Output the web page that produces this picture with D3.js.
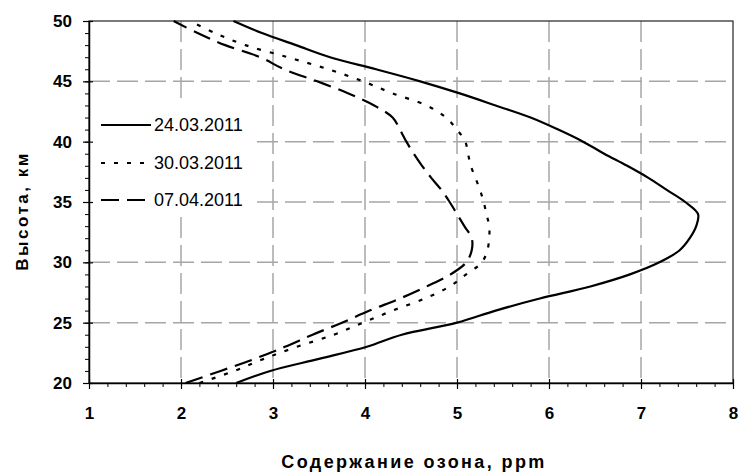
<!DOCTYPE html>
<html>
<head>
<meta charset="utf-8">
<script src="https://cdn.jsdelivr.net/npm/d3@7.9.0/dist/d3.min.js"></script>
<style>
  html, body { margin: 0; padding: 0; background: #fff; }
  svg { display: block; font-family: "Liberation Sans", Arial, sans-serif; }
</style>
</head>
<body>
<svg id="chart" width="740" height="472"></svg>
<script>
// altitude, km
const altitude = [20, 21, 22, 23, 24, 25, 26, 27, 28, 29, 30, 31, 32, 33, 34, 35,
                  36, 37, 38, 39, 40, 41, 42, 43, 44, 45, 46, 47, 48, 49, 50];

// ozone, ppm
const ozone0324 = [2.6, 2.97, 3.5, 4.02, 4.4, 5.0, 5.42, 5.9, 6.45, 6.88, 7.2, 7.42, 7.53, 7.6, 7.62, 7.48,
                   7.28, 7.08, 6.85, 6.6, 6.37, 6.1, 5.8, 5.42, 5.03, 4.6, 4.12, 3.62, 3.25, 2.88, 2.57];
const ozone0330 = [2.2, 2.58, 2.9, 3.26, 3.66, 3.98, 4.3, 4.65, 4.92, 5.1, 5.27, 5.33, 5.35, 5.35, 5.32, 5.29,
                   5.25, 5.2, 5.15, 5.12, 5.09, 5.0, 4.88, 4.67, 4.3, 3.98, 3.6, 3.16, 2.7, 2.37, 2.1];
const ozone0407 = [2.05, 2.43, 2.8, 3.13, 3.43, 3.75, 4.05, 4.38, 4.67, 4.93, 5.1, 5.16, 5.16, 5.08, 5.0, 4.92,
                   4.83, 4.72, 4.62, 4.53, 4.45, 4.38, 4.3, 4.1, 3.82, 3.48, 3.12, 2.86, 2.48, 2.18, 1.92];

const seriesNames = ['24.03.2011', '30.03.2011', '07.04.2011'];
const seriesValues = [ozone0324, ozone0330, ozone0407];
const seriesDash = [null, '4,9', '18,8'];

const xTicks = [1, 2, 3, 4, 5, 6, 7, 8];
const yTicks = [20, 25, 30, 35, 40, 45, 50];

const xTitle = 'Содержание озона, ppm';
const yTitle = 'Высота, км';

const margin = { top: 21, right: 7, bottom: 89, left: 89 };
const width = 740 - margin.left - margin.right;
const height = 472 - margin.top - margin.bottom;

const svg = d3.select('#chart');
const g = svg.append('g').attr('transform', `translate(${margin.left},${margin.top})`);

let x = d3.scaleLinear().domain([1, 8]).range([0, width]);
let y = d3.scaleLinear().domain([20, 50]).range([height, 0]);

// grid
const gridStyle = (sel) => sel.attr('stroke', '#a6a6a6').attr('stroke-width', 1.5).attr('stroke-dasharray', '21,7');
g.append('g').selectAll('line')
    .data(xTicks.slice(1, -1))
    .join('line')
    .attr('x1', d => x(d)).attr('x2', d => x(d))
    .attr('y1', 0).attr('y2', height)
    .call(gridStyle);
g.append('g').selectAll('line')
    .data(yTicks.slice(1, -1))
    .join('line')
    .attr('x1', 0).attr('x2', width)
    .attr('y1', d => y(d)).attr('y2', d => y(d))
    .call(gridStyle);

// frame
g.append('rect')
    .attr('width', width).attr('height', height)
    .attr('fill', 'none').attr('stroke', '#222').attr('stroke-width', 1.2);

// legend background covers the grid
g.append('rect')
    .attr('x', 1).attr('y', 83).attr('width', 166).attr('height', 112)
    .attr('fill', '#fff');

// minor ticks
g.append('g')
    .attr('transform', `translate(0,${height})`)
    .call(d3.axisBottom(x).tickValues(d3.range(1, 8.01, 0.2)).tickSize(4).tickFormat(''))
    .call(a => a.select('.domain').remove());
g.append('g')
    .call(d3.axisLeft(y).tickValues(d3.range(20, 50.1, 1)).tickSize(4).tickFormat(''))
    .call(a => a.select('.domain').remove());

// major axes
const xAxis = g.append('g')
    .attr('transform', `translate(0,${height})`)
    .call(d3.axisBottom(x).tickValues(xTicks).tickFormat(d3.format('d')).tickSize(6).tickSizeOuter(0));
xAxis.selectAll('.tick line').attr('y1', -4);
xAxis.selectAll('text').attr('y', 24).attr('dy', '0.71em');

const yAxis = g.append('g')
    .call(d3.axisLeft(y).tickValues(yTicks).tickFormat(d3.format('d')).tickSize(6).tickSizeOuter(0));
yAxis.selectAll('.tick line').attr('x1', 4);
yAxis.selectAll('text').attr('x', -17);

[xAxis, yAxis].forEach(a => {
    a.select('.domain').attr('stroke', '#000').attr('stroke-width', 1.5);
    a.selectAll('.tick line').attr('stroke', '#000').attr('stroke-width', 1.2);
    a.selectAll('text')
        .attr('font-size', 17).attr('font-weight', 'bold')
        .attr('font-family', '"Liberation Sans", Arial, sans-serif').attr('fill', '#000');
});

// lines
const line = d3.line()
    .x(d => x(d[0]))
    .y(d => y(d[1]))
    .curve(d3.curveCatmullRom);

seriesValues.forEach((vals, i) => {
    g.append('path')
        .datum(vals.map((v, k) => [v, altitude[k]]))
        .attr('d', line)
        .attr('fill', 'none')
        .attr('stroke', '#000')
        .attr('stroke-width', 2.2)
        .attr('stroke-dasharray', seriesDash[i]);
});

// legend
const legendY = [104, 142, 179];
seriesNames.forEach((name, i) => {
    const row = g.append('g').attr('transform', `translate(0,${legendY[i]})`);
    row.append('line')
        .attr('x1', 12).attr('x2', 62)
        .attr('stroke', '#000').attr('stroke-width', 2.2)
        .attr('stroke-dasharray', seriesDash[i]);
    row.append('text')
        .attr('x', 65).attr('dy', '0.35em')
        .attr('font-size', 18)
        .text(name);
});

// axis titles
svg.append('text')
    .attr('x', margin.left + width / 2 + 3)
    .attr('y', 468)
    .attr('text-anchor', 'middle')
    .attr('font-size', 18).attr('font-weight', 'bold')
    .attr('letter-spacing', 2.4)
    .text(xTitle);

svg.append('text')
    .attr('transform', `translate(28,211) rotate(-90)`)
    .attr('text-anchor', 'middle')
    .attr('font-size', 17).attr('font-weight', 'bold')
    .attr('letter-spacing', 2.5)
    .text(yTitle);
</script>
</body>
</html>
